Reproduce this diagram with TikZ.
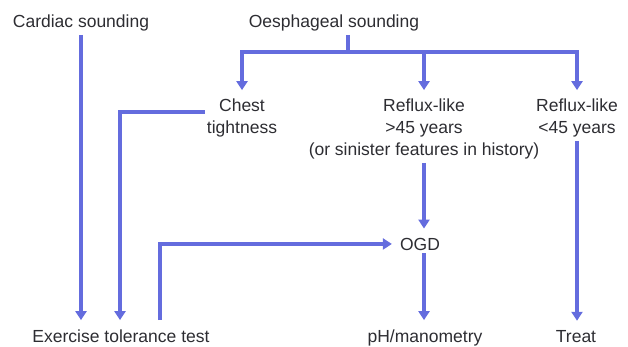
\documentclass[tikz,border=0pt]{standalone}
\usepackage{fontspec}
\setmainfont{Liberation Sans}
\usetikzlibrary{arrows.meta}
\definecolor{flow}{RGB}{100,108,222}
\definecolor{ink}{RGB}{45,45,50}
\begin{document}
\begin{tikzpicture}[x=1pt,y=-1pt,
  txt/.style={font=\fontsize{17.5}{22}\selectfont, text=ink, inner xsep=2pt, inner ysep=3pt, align=center, anchor=base},
  line/.style={draw=flow, line width=3.5pt},
  arr/.style={line, shorten >=6pt, -{Triangle[length=9pt,width=11pt]}}]
\useasboundingbox (0,0) rectangle (628,347);
\node[txt] (card) at (81,28) {Cardiac sounding};
\node[txt] (oes) at (334,28) {Oesphageal sounding};
\node[txt] (chest) at (242,134) {Chest\\tightness};
\node[txt] (refl1) at (424,156) {Reflux-like\\{>}45 years\\(or sinister features in history)};
\node[txt] (refl2) at (577,134) {Reflux-like\\{<}45 years};
\node[txt] (ogd) at (420,250) {OGD};
\node[txt] (ett) at (121,342) {Exercise tolerance test};
\node[txt] (ph) at (425,342) {pH/manometry};
\node[txt] (treat) at (576,342) {Treat};
\coordinate (j) at (348,52);
\coordinate (c2) at (120,112);
\coordinate (c3) at (160,0);
\draw[line] (oes.south -| j) -- (j);
\draw[arr] (j) -| (chest.north);
\draw[arr] (j) -| (refl2.north);
\draw[arr] (j -| refl1.north) -- (refl1.north);
\draw[arr] (card.south) -- (card.south |- ett.north);
\draw[arr] (chest.west |- c2) -- (c2) -- (c2 |- ett.north);
\draw[arr, shorten <=6pt] (ett.north -| c3) |- (ogd.west);
\draw[arr] (refl1.south) -- (refl1.south |- ogd.north);
\draw[arr] (ogd.south -| refl1) -- (ph.north -| refl1);
\draw[arr] (refl2.south) -- (refl2.south |- treat.north);
\end{tikzpicture}
\end{document}
